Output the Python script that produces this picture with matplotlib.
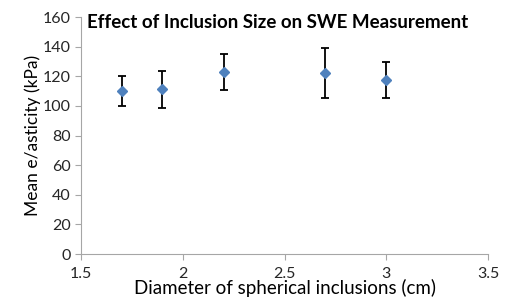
import numpy as np
import matplotlib
matplotlib.use("Agg")
import matplotlib.pyplot as plt

diameter = [1.7, 1.9, 2.2, 2.7, 3.0]
elasticity = [110.3, 111.2, 122.9, 122.4, 117.5]
err = [10.0, 12.5, 12.3, 17.0, 12.0]
xticks = [1.5, 2, 2.5, 3, 3.5]
xlabels = ["1.5", "2", "2.5", "3", "3.5"]
yticks = list(range(0, 161, 20))

plt.rcParams["font.family"] = ["Lato", "DejaVu Sans"]

fig = plt.figure(figsize=(5.1, 3.05), dpi=100)
ax = fig.add_axes([0.159, 0.167, 0.798, 0.777])
ax.errorbar(diameter, elasticity, yerr=err, fmt="D", color="#4F81BD",
            markersize=5, ecolor="black", elinewidth=1.3, capsize=3,
            capthick=1.3, zorder=3)
ax.set_xlim(1.5, 3.5)
ax.set_ylim(0, 160)
ax.set_xticks(xticks)
ax.set_xticklabels(xlabels)
ax.set_yticks(yticks)
ax.tick_params(labelsize=11.5, colors="#262626", length=4, color="#a6a6a6")
ax.tick_params(axis="x", pad=5)
for s in ["top", "right"]:
    ax.spines[s].set_visible(False)
for s in ["left", "bottom"]:
    ax.spines[s].set_color("#a6a6a6")
ax.set_xlabel("Diameter of spherical inclusions (cm)", fontsize=13.5, labelpad=-1)
ax.set_ylabel("Mean e/asticity (kPa)", fontsize=12.5, labelpad=1)
ax.text(0.015, 1.015, "Effect of Inclusion Size on SWE Measurement",
        transform=ax.transAxes, fontsize=13.5, fontweight="bold", va="top")
fig.savefig("out.png", dpi=100)
plt.close(fig)
